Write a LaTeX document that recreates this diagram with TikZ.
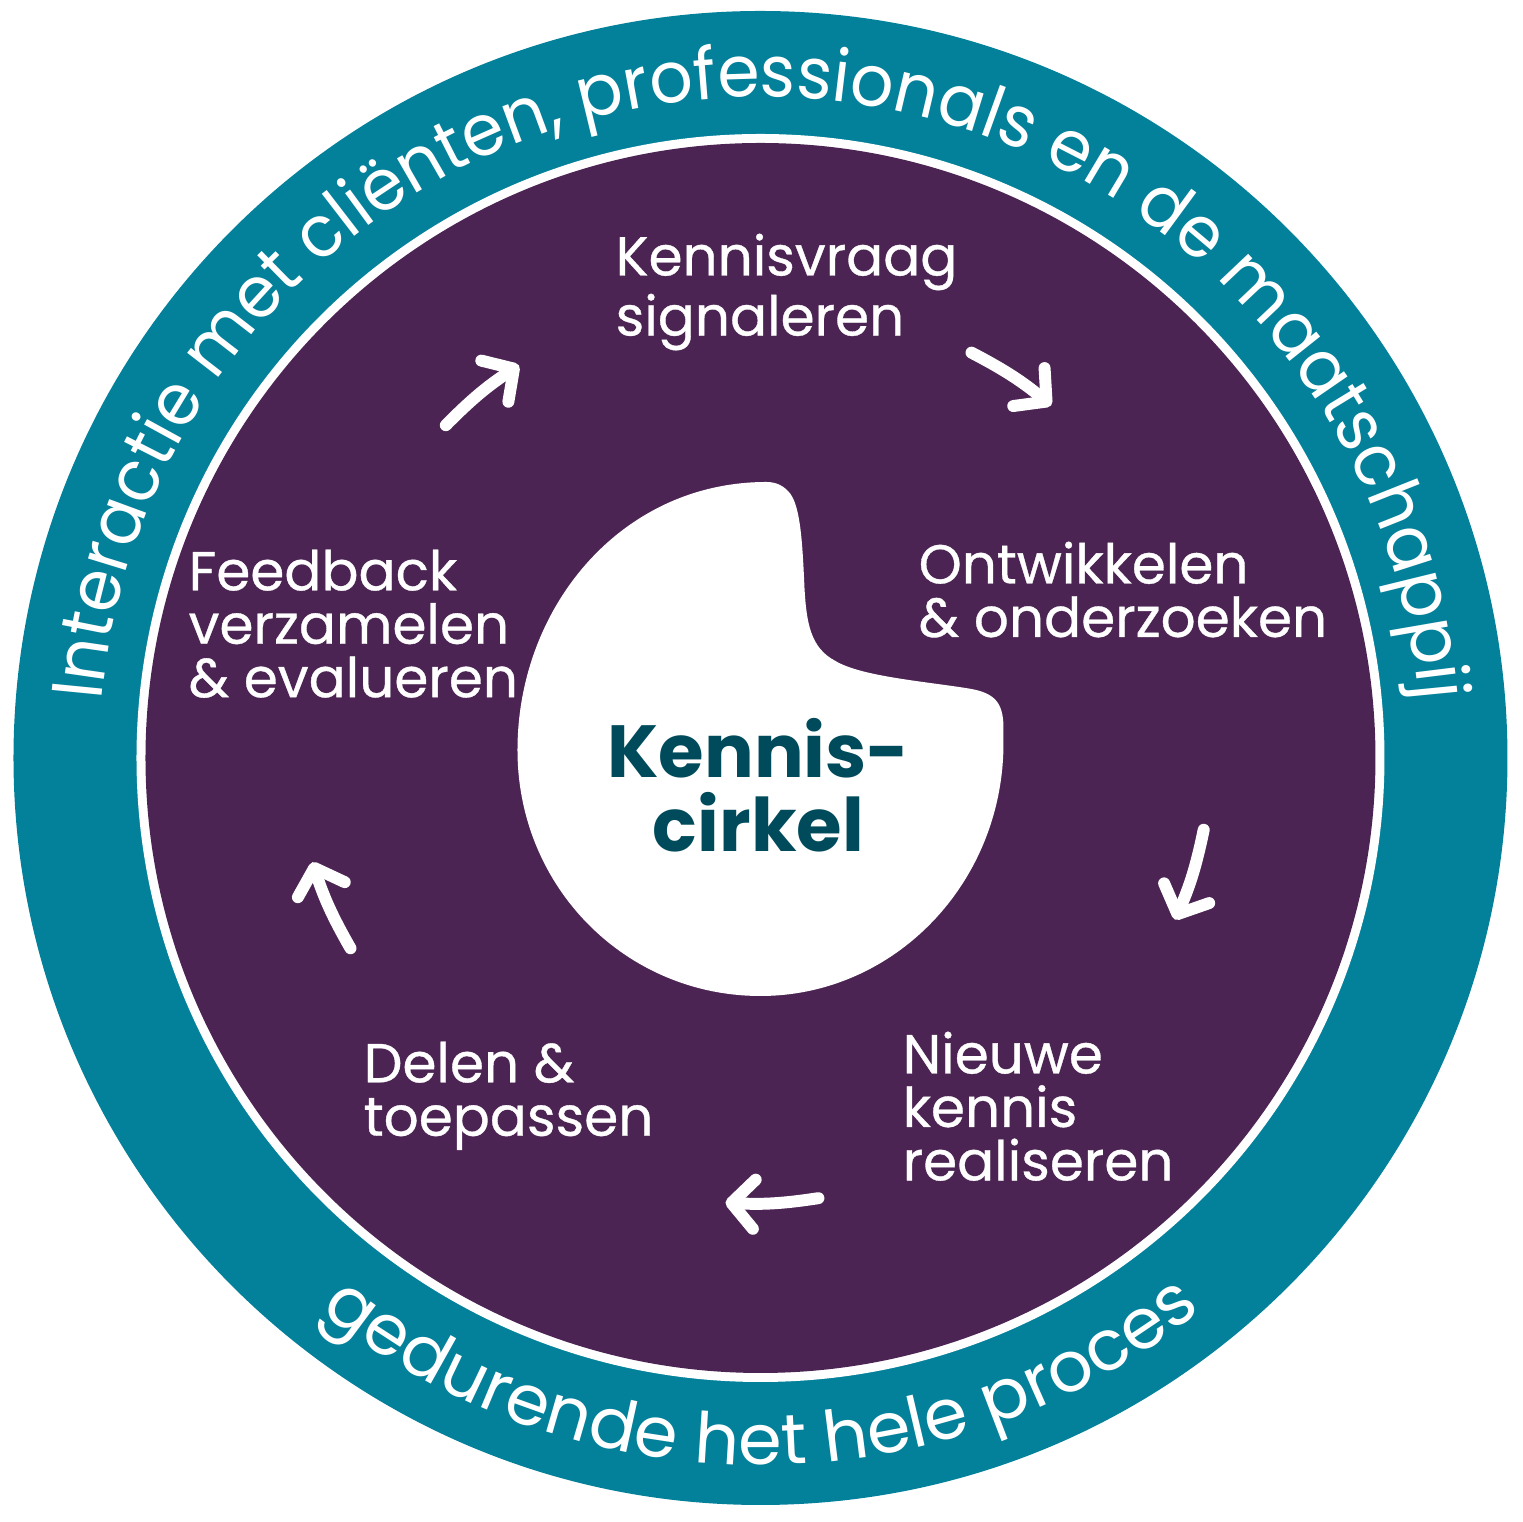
\documentclass[tikz,border=0pt]{standalone}
\usepackage{fontspec}
\setmainfont{Poppins}
\newfontfamily\ringfam[FakeStretch=0.95]{Poppins}
\newfontfamily\stagefam[FakeBold=0.6]{Poppins}
\usetikzlibrary{arrows.meta,decorations.text}
\definecolor{ringteal}{RGB}{3,129,154}
\definecolor{cyclepurple}{RGB}{76,36,83}
\definecolor{kerncolor}{RGB}{0,75,91}
\newcommand\ringfont{\ringfam\fontsize{20.4}{24}\selectfont}
\newcommand\lowringfont{\fontsize{20}{24}\selectfont}

\begin{document}
\begin{tikzpicture}[
  x=0.01cm, y=0.01cm,
  >={Straight Barb[round,length=6.5pt,width=14pt]},
  flow/.style={->,white,line width=3.4pt,line cap=round},
  stage/.style={anchor=north west,inner sep=0pt,align=left,text=white,
    font=\stagefam\fontsize{15.6}{15.2}\selectfont},
  ringtext/.style={decorate,decoration={text along path,text align=center,text={#1}}}
]
  \useasboundingbox (-760.5,-764) rectangle (762.5,758);

  % rings
  \fill[ringteal] (0,0) circle[radius=747];
  \fill[white] (0,0) circle[radius=624];
  \fill[cyclepurple] (0,0) circle[radius=615];

  \path[ringtext={|\ringfont\color{white}|Interactie met cliënten, professionals en de maatschappij}]
    (179:661) arc[start angle=179,end angle=1,radius=661];
  \path[ringtext={|\lowringfont\color{white}|gedurende het hele proces}]
    (-130:707) arc[start angle=-130,end angle=-50,radius=707];

  % centre shape
  \fill[white] (6,276) .. controls (-140,276) and (-243,150) .. (-243,8)
    .. controls (-243,-130) and (-134,-238) .. (0,-238)
    .. controls (134,-238) and (243,-125) .. (243,15)
    -- (243,30) .. controls (243,58) and (232,66) .. (205,70)
    .. controls (160,77) and (100,82) .. (75,97)
    .. controls (50,110) and (46,135) .. (44,170)
    .. controls (42,215) and (40,250) .. (30,264)
    .. controls (24,272) and (16,276) .. (6,276) -- cycle;
  \node[font=\bfseries\fontsize{21}{21}\selectfont,text=kerncolor,align=center] (kern) at (-2,-27) {Kennis-\\cirkel};

  % stages
  \node[stage] (signaleren) at (-145.5,525) {Kennisvraag\\signaleren};
  \node[stage] (ontwikkelen) at (157.5,217) {Ontwikkelen\\\& onderzoeken};
  \node[stage] (realiseren) at (141.5,-273) {Nieuwe\\kennis\\realiseren};
  \node[stage] (delen) at (-397.5,-283) {Delen \&\\toepassen};
  \node[stage] (feedback) at (-572.5,209) {Feedback\\verzamelen\\\& evalueren};

  % arrows between the stages
  \coordinate (f1) at (62.5:457);   \coordinate (t1) at (50.5:457);
  \coordinate (f2) at (-9.2:449);   \coordinate (t2) at (-21.3:445);
  \coordinate (f3) at (-82.5:444);  \coordinate (t3) at (-94.5:446);
  \coordinate (f4) at (204.9:452);  \coordinate (t4) at (193.1:460);
  \coordinate (f5) at (133.4:458);  \coordinate (t5) at (121.6:461);
  \draw[flow] (f1) to[bend left=6] (t1);
  \draw[flow] (f2) to[bend left=6] (t2);
  \draw[flow] (f3) to[bend left=6] (t3);
  \draw[flow] (f4) to[bend left=6] (t4);
  \draw[flow] (f5) to[bend left=6] (t5);
\end{tikzpicture}
\end{document}
